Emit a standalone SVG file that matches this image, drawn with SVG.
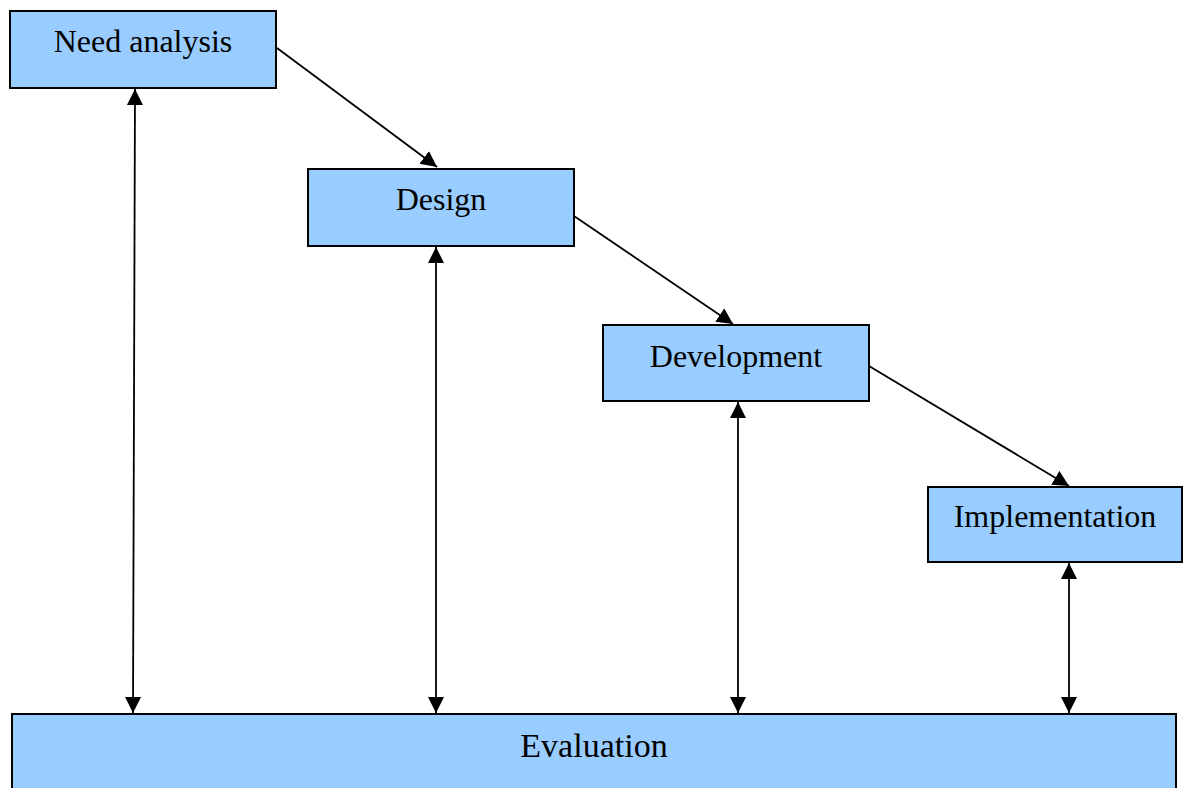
<svg xmlns="http://www.w3.org/2000/svg" width="1189" height="788" viewBox="0 0 1189 788">
<style>
.box{fill:#99CCFF;stroke:#000;stroke-width:2}
.lbl{font-family:"Liberation Serif","Times New Roman",serif;font-size:32px;fill:#000;text-anchor:middle}
.con{stroke:#000;stroke-width:1.8;fill:none}
</style>
<defs>
<marker id="ah" markerUnits="userSpaceOnUse" markerWidth="17" markerHeight="17" refX="16" refY="8" orient="auto" viewBox="0 0 17 16">
<path d="M0,0 L16,8 L0,16 z" fill="#000"/>
</marker>
<marker id="as" markerUnits="userSpaceOnUse" markerWidth="17" markerHeight="17" refX="16" refY="8" orient="auto-start-reverse" viewBox="0 0 17 16">
<path d="M0,0 L16,8 L0,16 z" fill="#000"/>
</marker>
</defs>
<rect width="1189" height="788" fill="#fff"/>
<g id="connectors">
<line class="con" x1="277" y1="48" x2="437" y2="167" marker-end="url(#ah)"/>
<line class="con" x1="574" y1="216" x2="733" y2="324" marker-end="url(#ah)"/>
<line class="con" x1="869" y1="366" x2="1069" y2="486" marker-end="url(#ah)"/>
<line class="con" x1="135" y1="89" x2="133" y2="713" marker-start="url(#as)" marker-end="url(#as)"/>
<line class="con" x1="436" y1="247" x2="436" y2="713" marker-start="url(#as)" marker-end="url(#as)"/>
<line class="con" x1="738" y1="402" x2="738" y2="713" marker-start="url(#as)" marker-end="url(#as)"/>
<line class="con" x1="1069" y1="563" x2="1069" y2="713" marker-start="url(#as)" marker-end="url(#as)"/>
</g>
<g id="need-analysis">
<rect class="box" x="10" y="11" width="266" height="77"/>
<text class="lbl" x="143" y="52">Need analysis</text>
</g>
<g id="design">
<rect class="box" x="308" y="169" width="266" height="77"/>
<text class="lbl" x="441" y="210">Design</text>
</g>
<g id="development">
<rect class="box" x="603" y="325" width="266" height="76"/>
<text class="lbl" x="736" y="367">Development</text>
</g>
<g id="implementation">
<rect class="box" x="928" y="487" width="254" height="75"/>
<text class="lbl" x="1055" y="527">Implementation</text>
</g>
<g id="evaluation">
<rect class="box" x="12" y="714" width="1164" height="90"/>
<text class="lbl" x="594" y="757" style="font-size:34px">Evaluation</text>
</g>
</svg>
